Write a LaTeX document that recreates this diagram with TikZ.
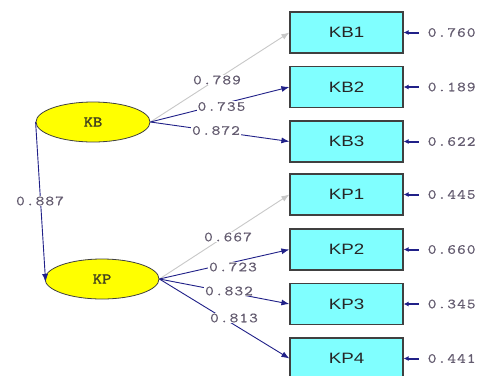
\documentclass[tikz,border=0pt]{standalone}
\usepackage{fontspec}
\usetikzlibrary{shapes.geometric,arrows.meta}
\newfontfamily\boxfont[FakeStretch=1.25]{Liberation Sans}
\newfontfamily\numfont[FakeStretch=1.2,LetterSpace=8,FakeBold=0.6]{Latin Modern Mono}
\newfontfamily\latfont[FakeStretch=1.2,FakeBold=2]{Latin Modern Mono}
\definecolor{pathblue}{HTML}{3A3AA8}
\definecolor{tipblue}{HTML}{202088}
\definecolor{pathgray}{HTML}{C8C8C8}
\definecolor{numgray}{HTML}{645C70}
\definecolor{boxcyan}{HTML}{80FFFF}
\definecolor{latyellow}{HTML}{FFFF00}
\definecolor{edgegray}{HTML}{404040}
\begin{document}
\begin{tikzpicture}[x=1pt,y=-1pt,
  obsbox/.style={draw=edgegray,line width=1.2pt,fill=boxcyan,minimum width=113pt,minimum height=41pt,inner sep=0pt,
    font=\boxfont\fontsize{15}{15}\selectfont,text=black!85},
  latent/.style={ellipse,draw=edgegray,line width=0.8pt,fill=latyellow,minimum width=114pt,minimum height=40pt,inner sep=0pt,
    font=\latfont\fontsize{15}{15}\selectfont,text={rgb,255:red,70;green,70;blue,30}},
  coef/.style={fill=white,inner sep=1pt,font=\numfont\fontsize{14}{14}\selectfont,text=numgray},
  errlab/.style={anchor=west,inner sep=0pt,font=\numfont\fontsize{14}{14}\selectfont,text=numgray},
  load/.style={draw=pathblue,line width=0.9pt,-{Latex[length=8pt,width=6pt]},tipblue},
  loadgray/.style={draw=pathgray,line width=0.9pt,-{Latex[length=8pt,width=6pt]},color=pathgray},
  errarrow/.style={draw=tipblue,line width=2pt,-{Latex[length=5pt,width=5pt]}}
]
\clip (0,0) rectangle (484,375);
\fill[white] (0,0) rectangle (484,375);

% latent factors
\node[latent] (KB) at (93,122) {KB};
\node[latent] (KP) at (102,279) {KP};

% indicators
\node[obsbox] (KB1) at (346.5,32.5) {KB1};
\node[obsbox] (KB2) at (346.5,87) {KB2};
\node[obsbox] (KB3) at (346.5,141.5) {KB3};
\node[obsbox] (KP1) at (346.5,194.5) {KP1};
\node[obsbox] (KP2) at (346.5,249.5) {KP2};
\node[obsbox] (KP3) at (346.5,304) {KP3};
\node[obsbox] (KP4) at (346.5,358.5) {KP4};

% structural path
\draw[load] (KB.west) -- ([xshift=1pt,yshift=-3pt]KP.west);
\node[coef] at (40,201) {0.887};

% loadings of KB
\draw[loadgray] (KB.east) -- (KB1.west);
\draw[load] (KB.east) -- (KB2.west);
\draw[load] (KB.east) -- (KB3.west);
\node[coef] at (217,80) {0.789};
\node[coef] at (221.5,106.5) {0.735};
\node[coef] at (216,130.5) {0.872};

% loadings of KP
\draw[loadgray] (KP.east) -- (KP1.west);
\draw[load] (KP.east) -- (KP2.west);
\draw[load] (KP.east) -- (KP3.west);
\draw[load] (KP.east) -- (KP4.west);
\node[coef] at (228,237) {0.667};
\node[coef] at (233,267) {0.723};
\node[coef] at (229,291) {0.832};
\node[coef] at (234,318) {0.813};

% error variances
\foreach \b/\v in {KB1/0.760,KB2/0.189,KB3/0.622,KP1/0.445,KP2/0.660,KP3/0.345,KP4/0.441}{
  \coordinate (e\b) at ([xshift=15pt]\b.east);
  \draw[errarrow] (e\b) -- (\b.east);
  \node[errlab] (l\b) at ([xshift=9pt]e\b) {\v};
}
\end{tikzpicture}
\end{document}
